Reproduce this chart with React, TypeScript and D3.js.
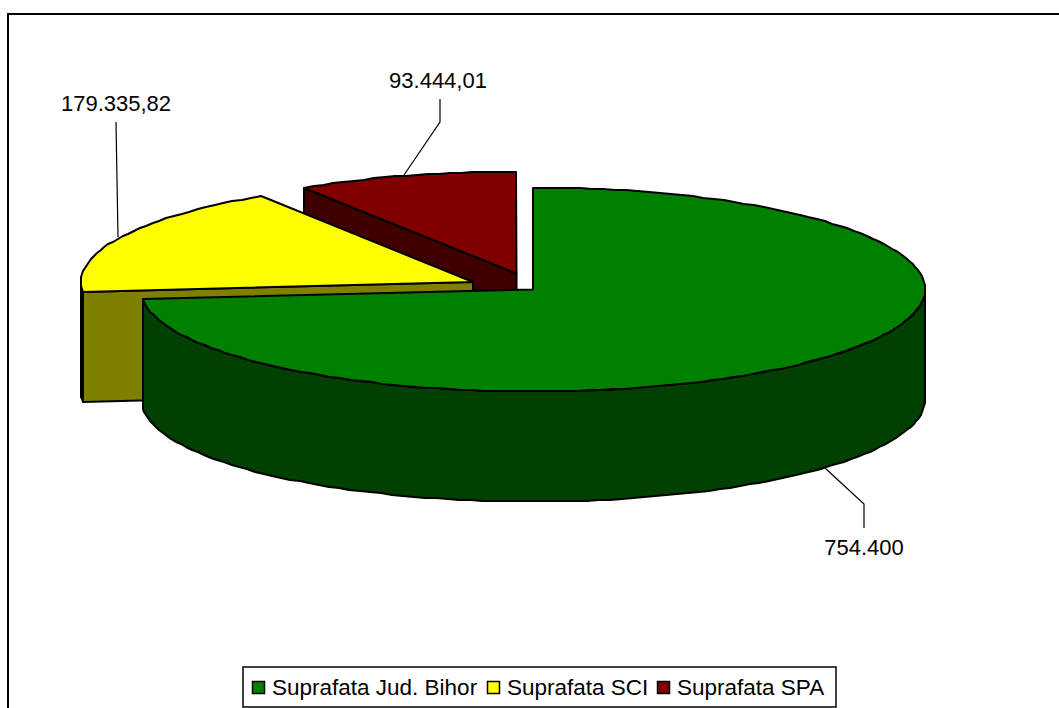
import React from "react";
import * as d3 from "d3";

const categories = ["Suprafata Jud. Bihor", "Suprafata SCI", "Suprafata SPA"];
const values = [754400, 179335.82, 93444.01];
const valueLabels = ["754.400", "179.335,82", "93.444,01"];
const topColors = ["#008000", "#FFFF00", "#800000"];
const sideColors = ["#004000", "#808000", "#400000"];

const W = 1059, H = 708;
const RX = 392, RY = 102, DEPTH = 110;
const centers: [number, number][] = [[533, 289.5], [473, 282], [516.5, 273.5]];
const FONT = "'Liberation Sans', Arial, sans-serif";

const slices = d3.pie<number>().sort(null)(values);

// Elliptical projection of the pie, angle measured clockwise from 12 o'clock.
const xs = d3.scaleLinear().domain([-1, 1]).range([-RX, RX]);
const ys = d3.scaleLinear().domain([-1, 1]).range([RY, -RY]);
const pt = (c: [number, number], a: number, dz = 0): [number, number] => [
  Math.round(c[0] + xs(Math.sin(a))),
  Math.round(c[1] + ys(Math.cos(a)) + dz),
];
// A fine polyline on whole pixels, as in the reference's slightly rough rim.
const samples = (a0: number, a1: number) => {
  const n = Math.max(2, Math.ceil(Math.abs(a1 - a0) / 0.03));
  return d3.range(n + 1).map((i) => a0 + ((a1 - a0) * i) / n);
};
const line = d3.line();

const topPath = (c: [number, number], a0: number, a1: number) =>
  line([c, ...samples(a0, a1).map((a) => pt(c, a))]) + "Z";
const rimPath = (c: [number, number], a0: number, a1: number) =>
  line([
    ...samples(a0, a1).map((a) => pt(c, a)),
    ...samples(a1, a0).map((a) => pt(c, a, DEPTH)),
  ]) + "Z";
const facePath = (c: [number, number], a: number) => {
  const p = pt(c, a);
  return line([c, p, [p[0], p[1] + DEPTH], [c[0], c[1] + DEPTH]]) + "Z";
};

const leaders: [number, number][][] = [
  [[825, 468], [864, 504], [864, 528]],
  [[118, 237], [116, 122]],
  [[404, 175], [440, 122], [440, 99]],
];
const labelPos: [number, number][] = [[864, 555], [116, 111], [438, 88]];

const legendItems = [
  { swatch: 252.5, text: 272 },
  { swatch: 487.5, text: 507 },
  { swatch: 657.5, text: 677 },
];

const stroke = { stroke: "#000", strokeWidth: 2, strokeLinejoin: "round" as const };

export default function App() {
  const [green, yellow, red] = slices;
  const yc = centers[1], rc = centers[2], gc = centers[0];
  return (
    <svg width={W} height={H} style={{ position: "absolute", left: 0, top: 0, background: "#fff" }} fontFamily={FONT}>
      <rect x={8} y={14} width={1100} height={740} fill="#fff" stroke="#000" strokeWidth={2} />

      {/* SPA */}
      <path d={facePath(rc, red.startAngle)} fill={sideColors[2]} {...stroke} />
      <path d={topPath(rc, red.startAngle, red.endAngle)} fill={topColors[2]} {...stroke} />

      {/* SCI */}
      <path d={rimPath(yc, yellow.startAngle, 1.5 * Math.PI)} fill={sideColors[1]} {...stroke} />
      <path d={facePath(yc, yellow.startAngle)} fill={sideColors[1]} {...stroke} />
      <path d={topPath(yc, yellow.startAngle, yellow.endAngle)} fill={topColors[1]} {...stroke} />

      {/* Jud. Bihor */}
      <path d={rimPath(gc, Math.PI / 2, green.endAngle)} fill={sideColors[0]} {...stroke} />
      <path d={topPath(gc, green.startAngle, green.endAngle)} fill={topColors[0]} {...stroke} />

      {leaders.map((l, i) => (
        <path key={i} d={line(l) as string} fill="none" stroke="#000" strokeWidth={1.2} />
      ))}
      {valueLabels.map((t, i) => (
        <text key={t} x={labelPos[i][0]} y={labelPos[i][1]} fontSize={22} textAnchor="middle" fill="#000">{t}</text>
      ))}

      <rect x={243} y={667} width={593} height={40} fill="#fff" stroke="#000" strokeWidth={1.5} />
      {categories.map((c, i) => (
        <g key={c}>
          <rect x={legendItems[i].swatch} y={681.5} width={12} height={12} fill={topColors[i]} stroke="#000" strokeWidth={1.5} />
          <text x={legendItems[i].text} y={695} fontSize={22.5} fill="#000">{c}</text>
        </g>
      ))}
    </svg>
  );
}
